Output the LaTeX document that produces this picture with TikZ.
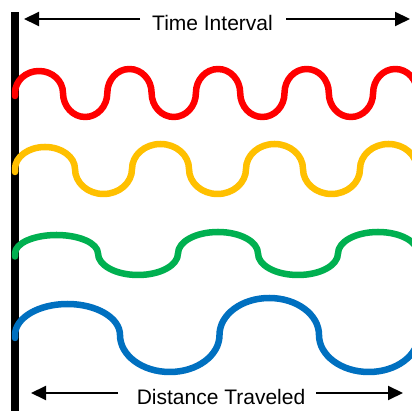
\documentclass[tikz,border=0pt]{standalone}
\usepackage{fontspec}
\setmainfont{Liberation Sans}
\usetikzlibrary{arrows.meta}
\definecolor{wred}{HTML}{FF0000}
\definecolor{wyellow}{HTML}{FFC000}
\definecolor{wgreen}{HTML}{00B050}
\definecolor{wblue}{HTML}{0070C0}
\tikzset{
  wave/.style={line width=6.5pt, line cap=round, line join=round},
  arr/.style={line width=2pt, -{Triangle[length=15pt,width=14pt]}},
  lbl/.style={inner sep=0pt, anchor=base, font=\fontsize{21}{25}\selectfont},
}
\begin{document}
\begin{tikzpicture}[x=1pt,y=1pt]
\useasboundingbox[fill=white] (0,0) rectangle (412,411);
% vertical bar
\fill[black] (11,0) rectangle (19,399);
% labels
\node[lbl] (tt) at (212.5,380) {Time Interval};
\node[lbl] (bt) at (221,6) {Distance Traveled};
% arrow end points
\coordinate (ta1) at (140,392); \coordinate (ta2) at (24,392);
\coordinate (ta3) at (286,392); \coordinate (ta4) at (410,392);
\coordinate (ba1) at (118,18);  \coordinate (ba2) at (31,18);
\coordinate (ba3) at (316,18);  \coordinate (ba4) at (403,18);
\draw[arr] (ta1) -- (ta2);
\draw[arr] (ta3) -- (ta4);
\draw[arr] (ba1) -- (ba2);
\draw[arr] (ba3) -- (ba4);
\begin{scope}
\clip (0,0) rectangle (412,411);
% red
\draw[wave, wred] (15,315) -- (15,318)
  arc[start angle=180, end angle=0, x radius=24, y radius=22]
  \foreach \i in {1,...,4} {
    arc[start angle=180, end angle=360, x radius=22.15, y radius=24]
    arc[start angle=180, end angle=0, x radius=22.15, y radius=24]
  };
% yellow
\draw[wave, wyellow] (15,239) -- (15,242)
  arc[start angle=180, end angle=0, x radius=30, y radius=22]
  \foreach \i in {1,...,3} {
    arc[start angle=180, end angle=360, x radius=28.5, y radius=25]
    arc[start angle=180, end angle=0, x radius=28.5, y radius=25]
  };
% green
\draw[wave, wgreen] (15,154.5) -- (15,157.5)
  arc[start angle=180, end angle=0, x radius=41.5, y radius=18.5]
  \foreach \i in {1,...,2} {
    arc[start angle=180, end angle=360, x radius=40, y radius=21.5]
    arc[start angle=180, end angle=0, x radius=40, y radius=21.5]
  };
% blue
\draw[wave, wblue] (15,73) -- (15,76)
  arc[start angle=180, end angle=0, x radius=52.5, y radius=31]
  arc[start angle=180, end angle=360, x radius=49.75, y radius=37]
  arc[start angle=180, end angle=0, x radius=49.75, y radius=37]
  arc[start angle=180, end angle=360, x radius=49.75, y radius=37];
\end{scope}
\end{tikzpicture}
\end{document}
